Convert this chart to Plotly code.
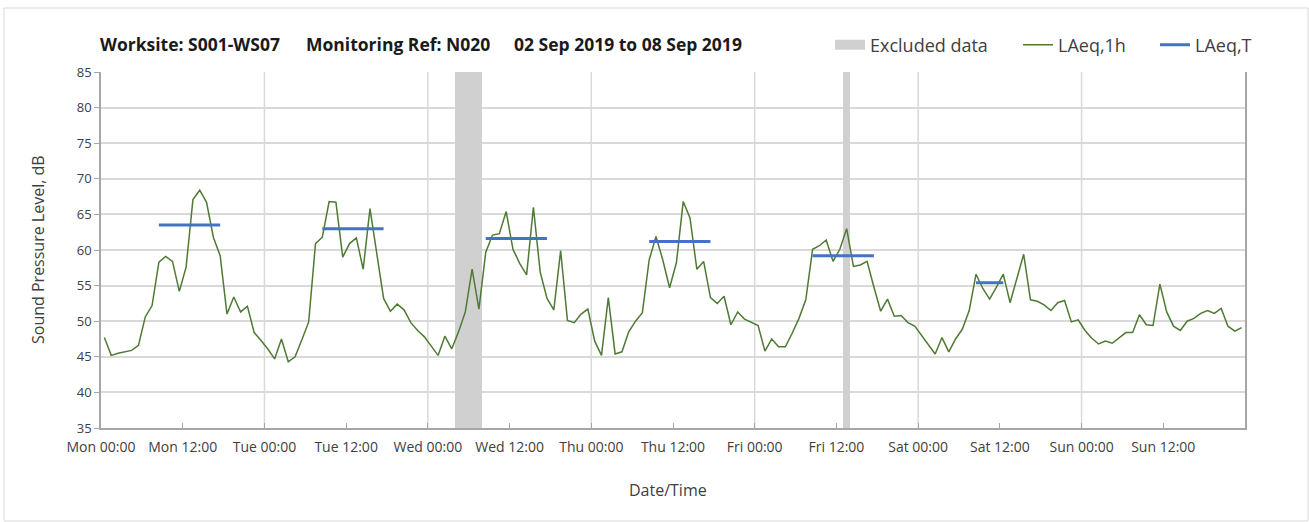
import pandas as pd
import plotly.graph_objects as go

# ---------------- data ----------------
start_date = "2019-09-02"          # Monday
laeq_1h = [
    47.7, 45.2, 45.5, 45.7, 45.9, 46.6, 50.6, 52.2, 58.3, 59.1, 58.4, 54.2,
    57.6, 67.1, 68.4, 66.7, 61.8, 59.2, 51.0, 53.4, 51.3, 52.1, 48.4, 47.3,
    46.1, 44.7, 47.5, 44.3, 45.0, 47.4, 49.9, 60.9, 61.8, 66.8, 66.7, 59.0,
    60.9, 61.7, 57.3, 65.8, 59.5, 53.2, 51.4, 52.4, 51.6, 49.8, 48.7, 47.8,
    46.5, 45.2, 47.9, 46.1, 48.5, 51.3, 57.3, 51.7, 59.7, 62.1, 62.3, 65.4,
    60.1, 58.1, 56.5, 66.0, 56.9, 53.2, 51.6, 59.9, 50.1, 49.8, 51.0, 51.7,
    47.2, 45.2, 53.3, 45.4, 45.7, 48.5, 50.0, 51.2, 58.6, 61.9, 58.6, 54.7,
    58.2, 66.8, 64.5, 57.3, 58.4, 53.3, 52.5, 53.5, 49.5, 51.3, 50.3, 49.8,
    49.4, 45.8, 47.5, 46.4, 46.4, 48.3, 50.4, 53.0, 60.1, 60.6, 61.4, 58.4,
    60.1, 63.0, 57.7, 57.9, 58.4, 54.8, 51.4, 53.1, 50.7, 50.8, 49.8, 49.3,
    48.0, 46.7, 45.4, 47.7, 45.7, 47.5, 48.9, 51.5, 56.6, 54.6, 53.1, 54.8,
    56.6, 52.6, 56.2, 59.4, 53.0, 52.8, 52.3, 51.5, 52.6, 52.9, 49.9, 50.2,
    48.7, 47.6, 46.8, 47.2, 46.9, 47.7, 48.4, 48.4, 50.9, 49.5, 49.4, 55.2,
    51.3, 49.3, 48.7, 50.0, 50.4, 51.1, 51.5, 51.1, 51.8, 49.3, 48.6, 49.1,
]

# LAeq,T periods (start, end) and values
laeq_t_start = ["2019-09-02 08:00", "2019-09-03 08:00", "2019-09-04 08:00",
                "2019-09-05 08:00", "2019-09-06 08:00", "2019-09-07 08:00"]
laeq_t_end = ["2019-09-02 18:00", "2019-09-03 18:00", "2019-09-04 18:00",
              "2019-09-05 18:00", "2019-09-06 18:00", "2019-09-07 13:00"]
laeq_t = [63.5, 63.0, 61.6, 61.2, 59.2, 55.4]

# Excluded data periods
excl_start = ["2019-09-04 04:00", "2019-09-06 13:00"]
excl_end = ["2019-09-04 08:00", "2019-09-06 14:00"]

y_min, y_max = 35, 85
title_parts = ["Worksite: S001-WS07", "Monitoring Ref: N020", "02 Sep 2019 to 08 Sep 2019"]

# ---------------- figure ----------------
FONT = "'Open Sans', Lato, sans-serif"
GREEN = "#4f7a34"
BLUE = "#4472c4"
GRID = "#d9d9d9"
EXCL = "#d0d0d0"

hour_times = pd.date_range(pd.Timestamp(start_date) + pd.Timedelta(minutes=30),
                           periods=len(laeq_1h), freq="h")
half = pd.Timedelta(minutes=30)

fig = go.Figure()

# excluded data bars
es = pd.to_datetime(excl_start)
ee = pd.to_datetime(excl_end)
fig.add_trace(go.Bar(
    x=es + (ee - es) / 2,
    y=[y_max - y_min] * len(es),
    base=[y_min] * len(es),
    width=[(e - s).total_seconds() * 1000 for s, e in zip(es, ee)],
    marker=dict(color=EXCL, line=dict(width=0)),
    name="Excluded data", legendgroup="excl", showlegend=False,
    hoverinfo="skip",
))
# legend entry for the excluded data (rectangular swatch)
fig.add_trace(go.Scatter(
    x=[None], y=[None], mode="lines",
    line=dict(color=EXCL, width=11),
    name="Excluded data", legendgroup="excl", legendwidth=143,
))

fig.add_trace(go.Scatter(
    x=hour_times, y=laeq_1h, mode="lines",
    line=dict(color=GREEN, width=1.5),
    name="LAeq,1h", legendwidth=92,
))

tx, ty = [], []
for s, e, v in zip(laeq_t_start, laeq_t_end, laeq_t):
    tx += [pd.Timestamp(s) + half, pd.Timestamp(e) - half, None]
    ty += [v, v, None]
fig.add_trace(go.Scatter(
    x=tx, y=ty, mode="lines",
    line=dict(color=BLUE, width=3),
    name="LAeq,T",
))

# x ticks every 12 h
t0 = pd.Timestamp(start_date)
tickvals = [t0 + pd.Timedelta(hours=12 * k) for k in range(14)]
ticktext = [t.strftime("%a %H:%M") for t in tickvals]

# day-boundary gridlines
shapes = []
for k in range(1, 7):
    d = t0 + pd.Timedelta(days=k)
    shapes.append(dict(type="line", xref="x", yref="paper", x0=d, x1=d, y0=0, y1=1,
                       line=dict(color=GRID, width=1.5), layer="below"))
# outer chart border
shapes.append(dict(type="rect", xref="paper", yref="paper",
                   x0=-0.0848, x1=1.0551, y0=-0.2612, y1=1.1798,
                   line=dict(color="#d9d9d9", width=1), layer="below"))

W, H = 1309, 522
L, R, T, B = 101, 64, 72, 94
pw, ph = W - L - R, H - T - B

def px_x(x):
    return (x - L) / pw

def px_y(y):
    return (H - B - y) / ph

annotations = []
for part, xp in zip(title_parts, [98, 304, 512]):
    annotations.append(dict(text=part, xref="paper", yref="paper", x=px_x(xp), y=px_y(44),
                            xanchor="left", yanchor="middle", showarrow=False,
                            font=dict(family=FONT, size=17.5, color="#1a1a1a", weight="bold")))
annotations.append(dict(text="Sound Pressure Level, dB", xref="paper", yref="paper",
                        x=px_x(38), y=px_y(250), textangle=-90, xanchor="center", yanchor="middle",
                        showarrow=False, font=dict(family=FONT, size=16, color="#404040")))
annotations.append(dict(text="Date/Time", xref="paper", yref="paper",
                        x=px_x(668), y=px_y(490), xanchor="center", yanchor="middle",
                        showarrow=False, font=dict(family=FONT, size=16, color="#404040")))

fig.update_layout(
    width=W, height=H,
    margin=dict(l=L, r=R, t=T, b=B),
    paper_bgcolor="white", plot_bgcolor="white",
    font=dict(family=FONT, size=12, color="#404040"),
    showlegend=True,
    legend=dict(orientation="h", x=px_x(830), y=px_y(45), xanchor="left", yanchor="middle",
                font=dict(family=FONT, size=18, color="#404040"),
                bgcolor="rgba(0,0,0,0)", traceorder="normal"),
    shapes=shapes,
    annotations=annotations,
    bargap=0,
)
fig.update_xaxes(
    type="date",
    range=[t0, t0 + pd.Timedelta(days=7)],
    tickmode="array", tickvals=tickvals, ticktext=ticktext,
    showgrid=False, zeroline=False,
    showline=True, linecolor="#a6a6a6", linewidth=1.5,
    ticks="inside", ticklen=5, tickcolor="#a6a6a6",
    ticklabelstandoff=5,
    tickfont=dict(family=FONT, size=14, color="#404040"),
)
fig.update_yaxes(
    range=[y_min, y_max], dtick=5, tick0=35,
    showgrid=True, gridcolor=GRID, gridwidth=1.5, zeroline=False,
    showline=True, linecolor="#a6a6a6", linewidth=1.5, mirror=True,
    ticks="outside", ticklen=5, tickcolor="#a6a6a6",
    tickfont=dict(family=FONT, size=13, color="#404040"),
)

fig.write_html("out.html", post_script="document.body.style.margin='0';",
               config={"displayModeBar": False})
